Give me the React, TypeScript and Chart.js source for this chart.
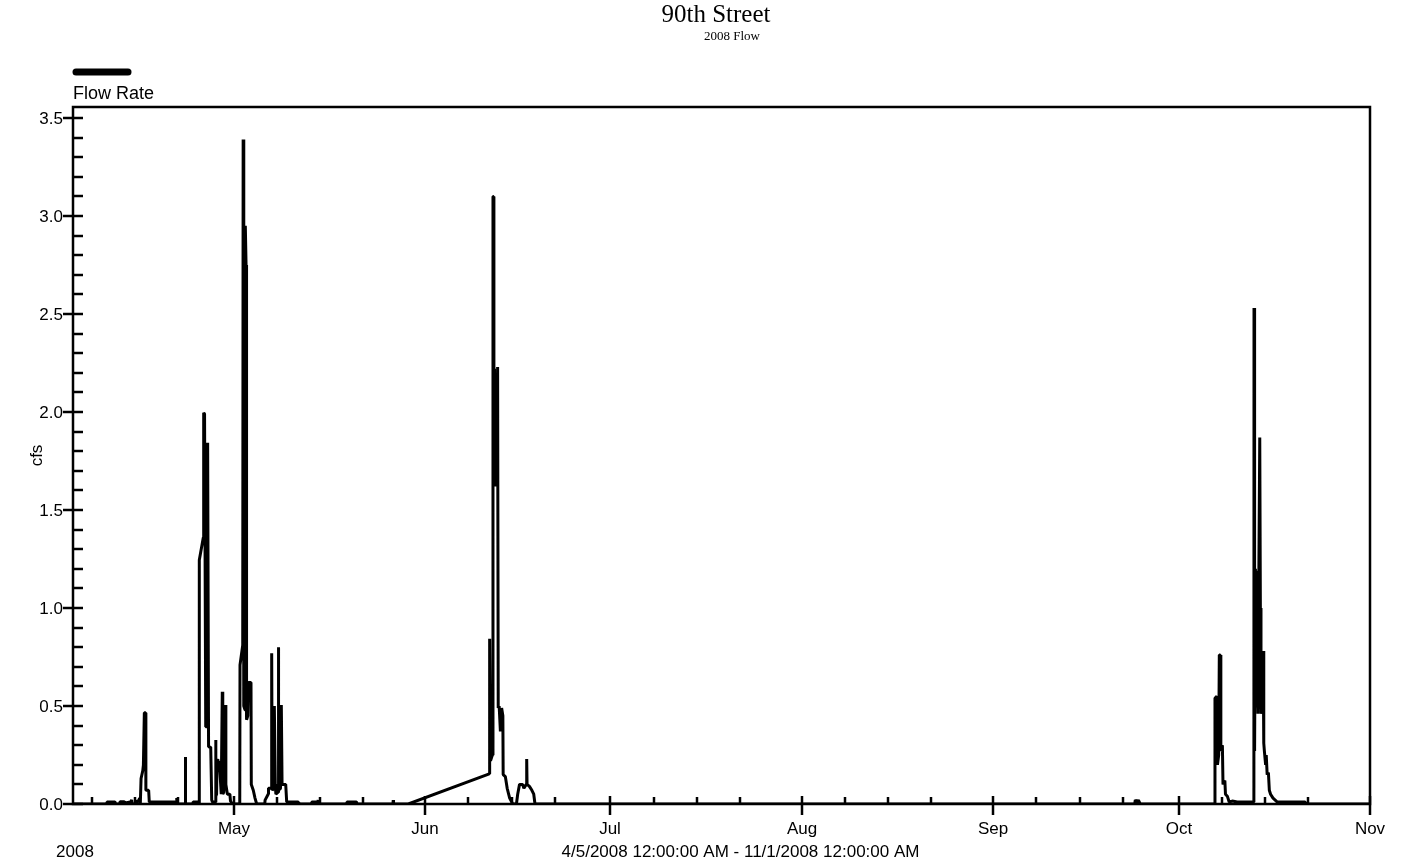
import React, { useEffect, useRef } from "react";
import { Chart, registerables } from "chart.js";

Chart.register(...registerables);

// Flow record, x = days since 4/5/2008 00:00, y = cfs
const aprilEarly: [number, number][] = [
  [0, 0], [5.4, 0], [5.5, 0.01], [6.8, 0.01], [6.9, 0], [7.5, 0], [7.6, 0.012], [8.3, 0.012],
  [8.4, 0.005], [9.3, 0.01], [9.5, 0.02], [9.6, 0], [10.3, 0], [10.35, 0.02], [10.5, 0.01],
  [10.8, 0.03], [10.9, 0], [11.0, 0], [11.02, 0.13], [11.3, 0.17], [11.4, 0.2], [11.55, 0.466],
  [11.75, 0.466], [11.8, 0.07], [12.25, 0.07], [12.35, 0.01], [16.5, 0.01], [16.6, 0],
  [16.75, 0], [16.8, 0.03], [16.9, 0], [18.15, 0], [18.18, 0.24], [18.22, 0.24], [18.25, 0],
  [19.4, 0], [19.45, 0.01], [20.2, 0.01], [20.3, 0], [20.44, 0],
];

const aprilStorm: [number, number][] = [
  [20.45, 1.245], [21.1, 1.36], [21.16, 1.996], [21.3, 1.99], [21.49, 0.394], [21.7, 0.394],
  [21.8, 1.843], [21.95, 0.292], [22.3, 0.29], [22.46, 0.02], [22.6, 0.01], [23.05, 0.01],
  [23.1, 0.327], [23.15, 0.04], [23.25, 0.05], [23.32, 0.23], [23.45, 0.2], [23.6, 0.22],
  [23.8, 0.16], [24.0, 0.05], [24.17, 0.573], [24.25, 0.05], [24.4, 0.06], [24.66, 0.505],
  [24.75, 0.1], [25.0, 0.05], [25.4, 0.05], [25.5, 0.015], [25.8, 0], [27.0, 0],
];

const mayStorm: [number, number][] = [
  [27.04, 0.709], [27.48, 0.81], [27.55, 3.39], [27.62, 3.39], [27.68, 0.5], [27.85, 0.48],
  [27.9, 2.95], [28.02, 2.75], [28.1, 0.43], [28.3, 0.45], [28.4, 0.62], [28.82, 0.62],
  [28.87, 0.1], [29.19, 0.07], [29.47, 0.03], [29.74, 0], [31.05, 0], [31.1, 0.02],
  [31.6, 0.05], [31.65, 0.08], [32.1, 0.08], [32.17, 0.769], [32.25, 0.07], [32.5, 0.08],
  [32.6, 0.5], [32.75, 0.1], [32.85, 0.05], [33.2, 0.06], [33.24, 0.8], [33.32, 0.07],
  [33.6, 0.08], [33.73, 0.505], [33.85, 0.1], [34.44, 0.1], [34.6, 0.01], [36.48, 0.01],
  [36.55, 0],
];

const mayBlips: [number, number][] = [
  [38.6, 0], [38.65, 0.01], [39.5, 0.01], [39.6, 0], [39.7, 0.02], [39.75, 0], [44.3, 0],
  [44.35, 0.01], [45.9, 0.01], [46.0, 0], [51.8, 0], [51.85, 0.02], [51.9, 0], [54.29, 0],
];

const juneStorm: [number, number][] = [
  [67.4, 0.154], [67.42, 0.843], [67.5, 0.84], [67.6, 0.22], [67.9, 0.25], [68.0, 3.1],
  [68.08, 3.1], [68.15, 1.63], [68.25, 2.22], [68.35, 1.62], [68.5, 2.0], [68.6, 1.65],
  [68.75, 2.23], [68.85, 0.49], [69.0, 0.5], [69.2, 0.37], [69.4, 0.49], [69.6, 0.45],
  [69.65, 0.15], [70.0, 0.14], [70.3, 0.08], [70.7, 0.03], [71.2, 0], [71.8, 0], [72.0, 0.05],
  [72.3, 0.1], [72.8, 0.1], [73.0, 0.08], [73.4, 0.1], [73.46, 0.23], [73.52, 0.1],
  [73.9, 0.09], [74.3, 0.07], [74.6, 0.05], [74.8, 0],
];

const summerBase: [number, number][] = [
  [171.9, 0], [172.0, 0.02], [172.3, 0.01], [172.5, 0.02], [172.8, 0], [184.85, 0],
];

const octoberStorm: [number, number][] = [
  [184.9, 0.54], [185.2, 0.55], [185.3, 0.2], [185.5, 0.25], [185.6, 0.76], [185.75, 0.76],
  [185.85, 0.27], [186.1, 0.3], [186.2, 0.1], [186.5, 0.12], [186.6, 0.05], [186.9, 0.04],
  [187.2, 0.01], [187.7, 0.015], [188.5, 0.01], [189.5, 0.01], [190.5, 0.01], [191.2, 0.01],
  [191.22, 2.53], [191.28, 2.53], [191.35, 0.27], [191.45, 1.2], [191.55, 0.5], [191.7, 1.19],
  [191.85, 0.46], [192.15, 1.87], [192.25, 1.0], [192.35, 0.46], [192.5, 0.6], [192.7, 0.78],
  [192.8, 0.31], [192.9, 0.27], [193.1, 0.2], [193.2, 0.25], [193.35, 0.15], [193.55, 0.16],
  [193.7, 0.07], [193.9, 0.05], [194.3, 0.03], [195.0, 0.01], [199.5, 0.01], [199.6, 0],
  [210, 0],
];

// Axis ticks
const monthStartDays = [26, 57, 87, 118, 149, 179, 210];
const monthLabels = ["May", "Jun", "Jul", "Aug", "Sep", "Oct", "Nov"];
const weekTickDays = [3, 10, 17, 33, 40, 47, 64, 71, 78, 94, 101, 108, 125, 132, 139, 156, 163, 170, 186, 193, 200];
const yMajorTicks = [0, 0.5, 1.0, 1.5, 2.0, 2.5, 3.0, 3.5];
const yMinorTicks = [0.1, 0.2, 0.3, 0.4, 0.6, 0.7, 0.8, 0.9, 1.1, 1.2, 1.3, 1.4, 1.6, 1.7, 1.8, 1.9,
  2.1, 2.2, 2.3, 2.4, 2.6, 2.7, 2.8, 2.9, 3.1, 3.2, 3.3, 3.4];

const titleText = "90th Street";
const subtitleText = "2008 Flow";
const seriesName = "Flow Rate";
const yAxisName = "cfs";
const yearLabel = "2008";
const rangeLabel = "4/5/2008 12:00:00 AM - 11/1/2008 12:00:00 AM";

const SANS = "'Liberation Sans', Arial, sans-serif";
const SERIF = "'Liberation Serif', 'Times New Roman', serif";

const framePlugin = {
  id: "frame",
  afterDatasetsDraw(chart: any) {
    const { ctx, chartArea } = chart;
    const { left, right, top, bottom } = chartArea;
    const xs = chart.scales.x;
    const ys = chart.scales.y;
    ctx.save();
    ctx.strokeStyle = "#000";
    ctx.fillStyle = "#000";
    ctx.lineCap = "butt";

    // plot frame
    ctx.lineWidth = 2.5;
    ctx.strokeRect(left, top, right - left, bottom - top);

    // y ticks
    ctx.lineWidth = 2.5;
    ctx.font = `17px ${SANS}`;
    ctx.textAlign = "right";
    ctx.textBaseline = "middle";
    yMajorTicks.forEach((v) => {
      const y = Math.round(ys.getPixelForValue(v));
      ctx.beginPath();
      ctx.moveTo(left - 10, y);
      ctx.lineTo(left + 10, y);
      ctx.stroke();
      ctx.fillText(v.toFixed(1), left - 10, y + 1);
    });
    yMinorTicks.forEach((v) => {
      const y = Math.round(ys.getPixelForValue(v));
      ctx.beginPath();
      ctx.moveTo(left, y);
      ctx.lineTo(left + 10, y);
      ctx.stroke();
    });

    // x ticks
    ctx.textAlign = "center";
    ctx.textBaseline = "alphabetic";
    monthStartDays.forEach((d, i) => {
      const x = Math.round(xs.getPixelForValue(d));
      ctx.beginPath();
      ctx.moveTo(x, bottom - 8);
      ctx.lineTo(x, bottom + 11);
      ctx.stroke();
      ctx.fillText(monthLabels[i], x, bottom + 30);
    });
    weekTickDays.forEach((d) => {
      const x = Math.round(xs.getPixelForValue(d));
      ctx.beginPath();
      ctx.moveTo(x, bottom - 7);
      ctx.lineTo(x, bottom);
      ctx.stroke();
    });

    // bottom captions
    ctx.fillText(yearLabel, left + 2, bottom + 53);
    ctx.fillText(rangeLabel, (left + right) / 2 + 19, bottom + 53);

    // y axis name
    ctx.save();
    ctx.translate(42, (top + bottom) / 2);
    ctx.rotate(-Math.PI / 2);
    ctx.textBaseline = "alphabetic";
    ctx.fillText(yAxisName, 0, 0);
    ctx.restore();

    // legend
    ctx.lineWidth = 7;
    ctx.lineCap = "round";
    ctx.beginPath();
    ctx.moveTo(left + 3, 72);
    ctx.lineTo(left + 55, 72);
    ctx.stroke();
    ctx.textAlign = "left";
    ctx.font = `18px ${SANS}`;
    ctx.fillText(seriesName, left, 99);

    // titles
    ctx.textAlign = "center";
    ctx.font = `25px ${SERIF}`;
    ctx.fillText(titleText, 716, 22);
    ctx.font = `13px ${SERIF}`;
    ctx.fillText(subtitleText, 732, 40);
    ctx.restore();
  },
};

export default function App() {
  const canvasRef = useRef<HTMLCanvasElement | null>(null);

  useEffect(() => {
    document.body.style.margin = "0";
    document.body.style.overflow = "hidden";
    const points = [
      ...aprilEarly, ...aprilStorm, ...mayStorm, ...mayBlips,
      ...juneStorm, ...summerBase, ...octoberStorm,
    ].map(([x, y]) => ({ x, y }));

    const chart = new Chart(canvasRef.current as HTMLCanvasElement, {
      type: "line",
      data: {
        datasets: [
          {
            label: seriesName,
            data: points,
            borderColor: "#000",
            borderWidth: 3,
            borderJoinStyle: "bevel",
            pointRadius: 0,
            tension: 0,
            fill: false,
          },
        ],
      },
      options: {
        responsive: false,
        animation: false,
        layout: { padding: { left: 73, right: 31, top: 107, bottom: 59 } },
        plugins: {
          legend: { display: false },
          title: { display: false },
          tooltip: { enabled: false },
        },
        scales: {
          x: { type: "linear", display: false, min: 0, max: 210 },
          y: { type: "linear", display: false, min: 0, max: 3.556 },
        },
      },
      plugins: [framePlugin],
    });
    return () => chart.destroy();
  }, []);

  return (
    <div style={{ width: 1401, height: 863, background: "#fff" }}>
      <canvas ref={canvasRef} width={1401} height={863} />
    </div>
  );
}
